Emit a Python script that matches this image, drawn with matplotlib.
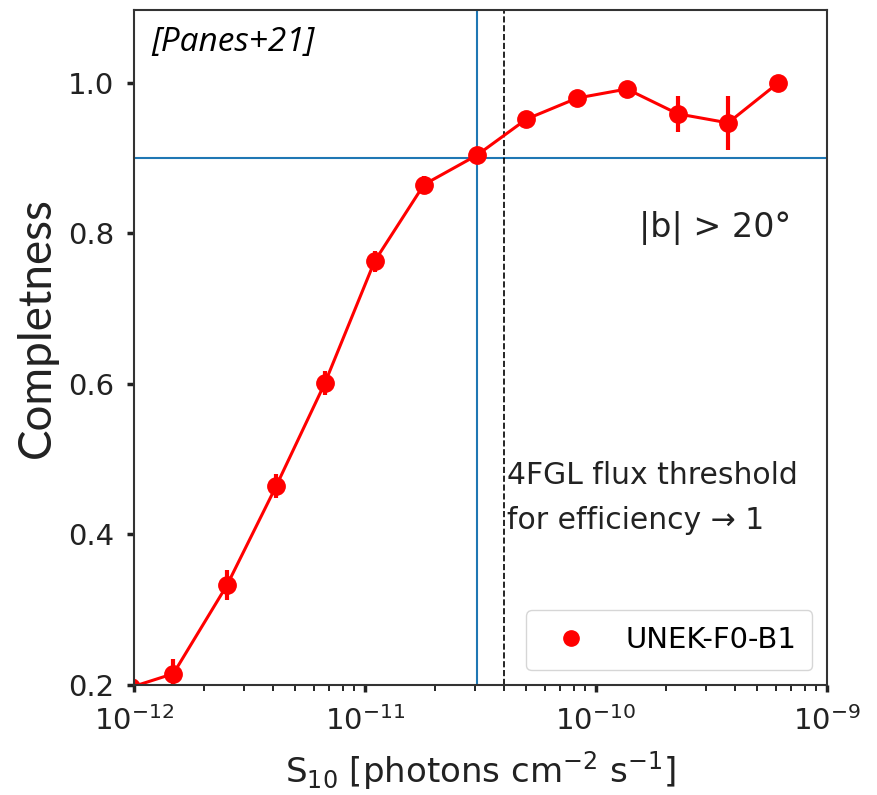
import numpy as np
import matplotlib
matplotlib.use("Agg")
import matplotlib.pyplot as plt
from matplotlib.lines import Line2D

# Completeness vs flux
flux = [0.97e-12, 1.48e-12, 2.53e-12, 4.12e-12, 6.7e-12, 1.1e-11, 1.8e-11,
        3.05e-11, 5.0e-11, 8.3e-11, 1.36e-10, 2.26e-10, 3.73e-10, 6.14e-10]
compl = [0.197, 0.215, 0.333, 0.464, 0.601, 0.763, 0.865,
         0.904, 0.952, 0.980, 0.992, 0.959, 0.947, 1.000]
err = [0.010, 0.020, 0.020, 0.016, 0.016, 0.014, 0.012,
       0.008, 0.008, 0.007, 0.006, 0.024, 0.036, 0.004]

S_lim = 3.05e-11      # flux at 90% completeness
C_lim = 0.9
S_4fgl = 4.0e-11      # 4FGL threshold

fig = plt.figure(figsize=(8.77, 7.95), dpi=100)
ax = fig.add_axes([134/877, 110/795, 693/877, 675/795])

ax.errorbar(flux, compl, yerr=err, color='red', marker='o', ms=12.5, lw=2.2,
            elinewidth=3, capsize=0)
ax.axvline(S_lim, color='#1f77b4', lw=1.5)
ax.axhline(C_lim, color='#1f77b4', lw=1.5)
ax.axvline(S_4fgl, color='black', ls='--', lw=1.2)

ax.set_xscale('log')
ax.set_xlim(1e-12, 1e-9)
ax.set_ylim(0.2, 1.097)
ax.set_yticks([0.2, 0.4, 0.6, 0.8, 1.0])

ax.tick_params(labelsize=21, width=2.5, length=5, colors='#222222')
ax.tick_params(axis='y', pad=9)
ax.tick_params(axis='x', pad=10)
ax.tick_params(which='minor', width=1.2, length=4)
for s in ax.spines.values():
    s.set_linewidth(1.5)
    s.set_color('#333333')

ax.set_ylabel('Completness', fontsize=33, family='Lato', color='#222222')
ax.yaxis.set_label_coords(-0.11, 0.529)
ax.set_xlabel(r'$\mathrm{S}_{10}$ [photons cm$^{-2}$ s$^{-1}$]', fontsize=24.5,
              color='#222222', labelpad=10)

ax.text(0.025, 0.976, '[Panes+21]', transform=ax.transAxes, fontsize=24,
        style='italic', family='Open Sans', va='top', ha='left')
ax.text(0.948, 0.677, '|b| > 20°', transform=ax.transAxes, fontsize=24,
        va='center', ha='right', color='#222222')
ax.text(4.1e-11, 0.498, '4FGL flux threshold\nfor efficiency → 1',
        fontsize=21.5, va='top', ha='left', color='#222222', linespacing=1.72)

handle = Line2D([], [], color='red', marker='o', ls='none', ms=11)
leg = ax.legend([handle], ['UNEK-F0-B1'], loc='lower right', fontsize=21,
                borderpad=0.55, handletextpad=0.85, handlelength=2.0,
                borderaxespad=0.5)

fig.savefig('out.png', dpi=100)
